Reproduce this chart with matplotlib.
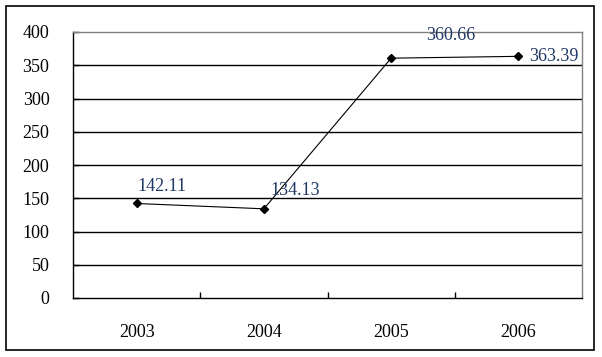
import numpy as np
import matplotlib
matplotlib.use("Agg")
import matplotlib.pyplot as plt
from matplotlib.patches import Rectangle

# data
years = ["2003", "2004", "2005", "2006"]
values = [142.11, 134.13, 360.66, 363.39]
yticks = [0, 50, 100, 150, 200, 250, 300, 350, 400]

# label offsets in pixels (dx, dy), text left-aligned
label_offsets = [(1, 17), (7, 18), (35, 23), (11, 0)]

plt.rcParams['font.family'] = ['Liberation Serif', 'DejaVu Serif']

fig = plt.figure(figsize=(6.02, 3.57), dpi=100)
ax = fig.add_axes([73/602, 1 - 298/357, (582 - 73)/602, (298 - 32)/357])

x = np.arange(len(years))

# gridlines (not the top one, that is the grey frame)
for v in yticks[1:-1]:
    ax.axhline(v, color='black', lw=1.0, zorder=1)

ax.plot(x, values, color='black', lw=0.8, marker='D', markersize=4.5,
        markerfacecolor='black', markeredgecolor='black', zorder=3)

for xi, v, (dx, dy) in zip(x, values, label_offsets):
    ax.annotate("%.2f" % v, (xi, v), xytext=(dx, dy), textcoords='offset pixels',
                ha='left', va='center', fontsize=13, color='#1F3864', zorder=4)

ax.set_xlim(-0.5, len(years) - 0.5)
ax.set_ylim(0, 400)
ax.set_yticks(yticks)
ax.set_yticklabels([str(t) for t in yticks])
ax.set_xticks(x)
ax.set_xticklabels(years)
ax.set_xticks(x[:-1] + 0.5, minor=True)

ax.tick_params(axis='x', which='major', length=0, pad=19, labelsize=13)
ax.tick_params(axis='x', which='minor', direction='in', length=4, width=1, color='black')
ax.tick_params(axis='y', which='major', direction='in', length=4, width=1, pad=17,
               labelsize=13, color='black')

for s in ['left', 'bottom']:
    ax.spines[s].set_color('black')
    ax.spines[s].set_linewidth(1.0)
for s in ['top', 'right']:
    ax.spines[s].set_color('#808080')
    ax.spines[s].set_linewidth(1.0)

# outer chart border
fig.patches.append(Rectangle((6/602, 1 - 350/357), 588/602, 344/357,
                             transform=fig.transFigure, fill=False,
                             edgecolor='black', lw=1.2))

fig.savefig("out.png", dpi=100)
